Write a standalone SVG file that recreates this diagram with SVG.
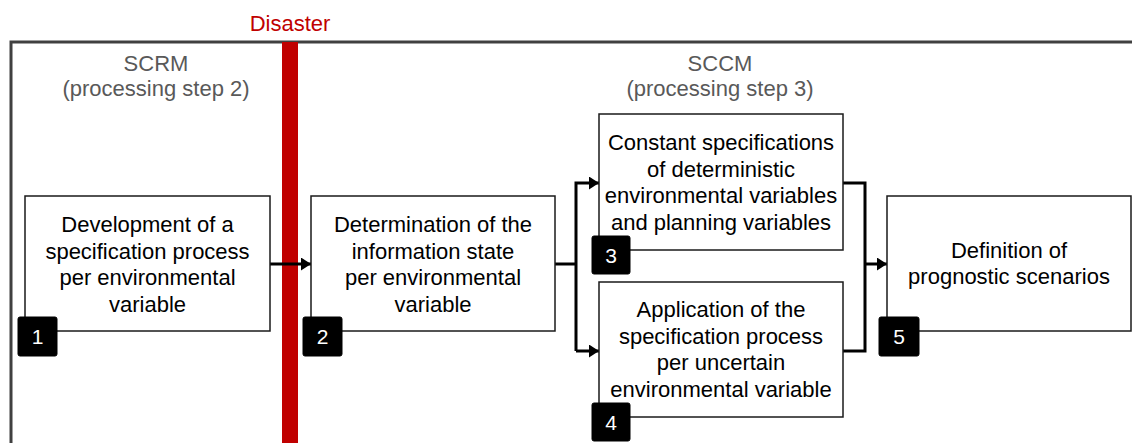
<svg xmlns="http://www.w3.org/2000/svg" width="1132" height="443" viewBox="0 0 1132 443">
<style>
text{font-family:"Liberation Sans",Arial,sans-serif;font-size:22px;text-anchor:middle}
.box{fill:#fff;stroke:#1a1a1a;stroke-width:1.5}
.t{fill:#000}
.hdr{fill:#595959}
.badge{fill:#000;stroke:#000;stroke-width:1}
.num{fill:#fff;font-size:21px}
.con{fill:none;stroke:#000;stroke-width:3}
</style>
<defs>
<marker id="ah" viewBox="0 0 10 13" refX="10" refY="6.5" markerWidth="10" markerHeight="13" markerUnits="userSpaceOnUse" orient="auto">
<path d="M0,0 L10,6.5 L0,13 Z" fill="#000"/>
</marker>
</defs>
<rect width="1132" height="443" fill="#fff"/>
<g id="frame">
<path d="M11,443 V42 H1132" fill="none" stroke="#404040" stroke-width="3"/>
</g>
<g id="disaster">
<rect x="282" y="42" width="16" height="401" fill="#c00000"/>
<text x="290" y="31" fill="#c00000">Disaster</text>
</g>
<g id="scrm">
<text class="hdr" x="156" y="71">SCRM</text>
<text class="hdr" x="156" y="96">(processing step 2)</text>
</g>
<g id="sccm">
<text class="hdr" x="720" y="71">SCCM</text>
<text class="hdr" x="720" y="96">(processing step 3)</text>
</g>
<g id="connectors">
<path class="con" d="M270,264 H311" marker-end="url(#ah)"/>
<path class="con" d="M555,264 H576"/>
<path class="con" d="M576,351 V183 H599" marker-end="url(#ah)"/>
<path class="con" d="M576,351 H599" marker-end="url(#ah)"/>
<path class="con" d="M843,183 H865 V351 H843"/>
<path class="con" d="M865,264 H887" marker-end="url(#ah)"/>
</g>
<g id="node1">
<rect class="box" x="25" y="196" width="245" height="135"/>
<text class="t" x="147.5" y="232">Development of a</text>
<text class="t" x="147.5" y="258.5">specification process</text>
<text class="t" x="147.5" y="285">per environmental</text>
<text class="t" x="147.5" y="311.5">variable</text>
<rect class="badge" x="18" y="317" width="39" height="39" rx="2"/>
<text class="num" x="37.5" y="344">1</text>
</g>
<g id="node2">
<rect class="box" x="311" y="196" width="244" height="135"/>
<text class="t" x="433" y="232">Determination of the</text>
<text class="t" x="433" y="258.5">information state</text>
<text class="t" x="433" y="285">per environmental</text>
<text class="t" x="433" y="311.5">variable</text>
<rect class="badge" x="303" y="317" width="39" height="39" rx="2"/>
<text class="num" x="322.5" y="344">2</text>
</g>
<g id="node3">
<rect class="box" x="599" y="114" width="244" height="136"/>
<text class="t" x="721" y="150">Constant specifications</text>
<text class="t" x="721" y="176.5">of deterministic</text>
<text class="t" x="721" y="203">environmental variables</text>
<text class="t" x="721" y="229.5">and planning variables</text>
<rect class="badge" x="592" y="236" width="38" height="38" rx="2"/>
<text class="num" x="611" y="263">3</text>
</g>
<g id="node4">
<rect class="box" x="599" y="282" width="244" height="135"/>
<text class="t" x="721" y="317">Application of the</text>
<text class="t" x="721" y="343.5">specification process</text>
<text class="t" x="721" y="370">per uncertain</text>
<text class="t" x="721" y="396.5">environmental variable</text>
<rect class="badge" x="592" y="403" width="38" height="38" rx="2"/>
<text class="num" x="611" y="430">4</text>
</g>
<g id="node5">
<rect class="box" x="887" y="196" width="244" height="135"/>
<text class="t" x="1009" y="258">Definition of</text>
<text class="t" x="1009" y="284">prognostic scenarios</text>
<rect class="badge" x="879" y="317" width="40" height="39" rx="2"/>
<text class="num" x="899" y="344">5</text>
</g>
</svg>
